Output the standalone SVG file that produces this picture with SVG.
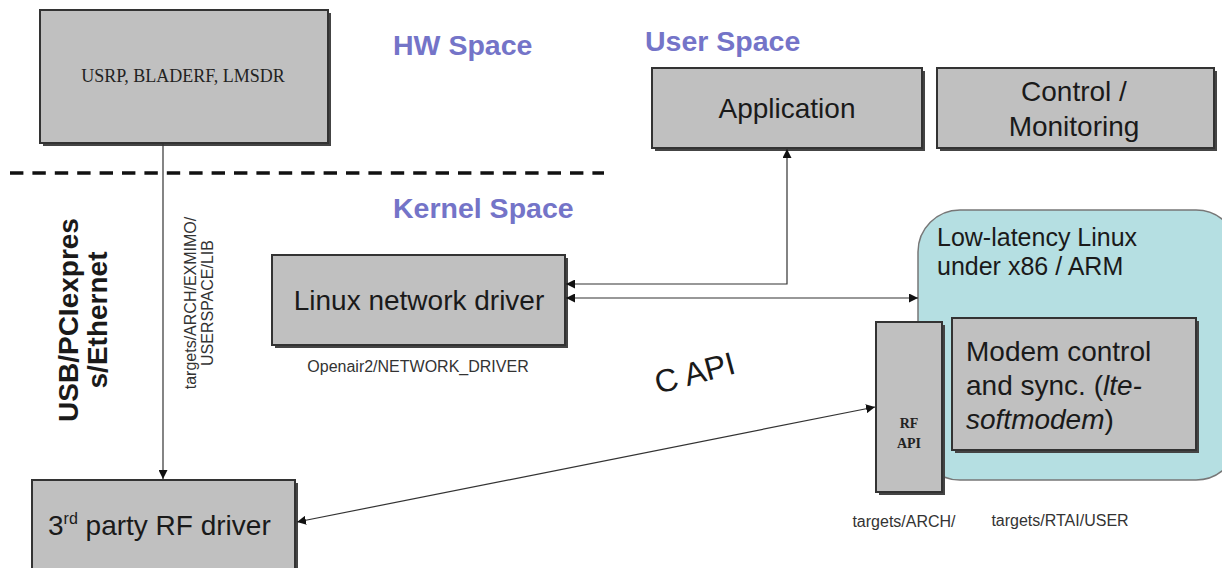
<svg xmlns="http://www.w3.org/2000/svg" width="1222" height="568" viewBox="0 0 1222 568">
  <defs>
    <marker id="arr" viewBox="0 0 10 10" refX="10" refY="5" markerWidth="9" markerHeight="9" markerUnits="userSpaceOnUse" orient="auto-start-reverse">
      <path d="M0,0 L10,5 L0,10 z" fill="#111"/>
    </marker>
  </defs>
  <style>
    .box { fill: #c0c0c0; stroke: #333; stroke-width: 2; }
    .shadow { fill: #444; }
    .space { font-family: "Liberation Sans", Arial, sans-serif; font-weight: bold; font-size: 28.5px; fill: #7474c8; }
    .lbl { font-family: "Liberation Sans", Arial, sans-serif; fill: #1a1a1a; }
    .small { font-family: "Liberation Sans", Arial, sans-serif; font-size: 16px; fill: #333; }
    .serif { font-family: "Liberation Serif", "Times New Roman", serif; fill: #222; }
    .conn { stroke: #333; stroke-width: 1.2; fill: none; }
  </style>
  <rect width="1222" height="568" fill="#fff"/>

  <!-- area titles -->
  <text class="space" x="393" y="55">HW Space</text>
  <text class="space" x="645" y="51">User Space</text>
  <text class="space" x="393" y="218">Kernel Space</text>

  <!-- HW / kernel boundary -->
  <line x1="10" y1="173" x2="604" y2="173" stroke="#111" stroke-width="3.5" stroke-dasharray="13.4,9"/>

  <!-- bus label -->
  <text class="lbl" font-size="28" font-weight="bold" transform="translate(78,320) rotate(-90)" text-anchor="middle">USB/PCIexpres</text>
  <text class="lbl" font-size="28" font-weight="bold" transform="translate(107,320) rotate(-90)" text-anchor="middle">s/Ethernet</text>

  <g id="n-lowlatency">
    <rect x="918" y="210" width="320" height="270" rx="42" fill="#b5dfe2" stroke="#777" stroke-width="1.5"/>
    <text class="lbl" font-size="25" x="937" y="246">Low-latency Linux</text>
    <text class="lbl" font-size="25" x="937" y="275">under x86 / ARM</text>
  </g>

  <g id="n-usrp">
    <rect class="shadow" x="43" y="13" width="288" height="133"/>
    <rect class="box" x="40" y="10" width="288" height="133"/>
    <text class="serif" font-size="18" x="183" y="82" text-anchor="middle">USRP, BLADERF, LMSDR</text>
  </g>

  <g id="n-application">
    <rect class="shadow" x="655" y="71" width="270" height="80"/>
    <rect class="box" x="652" y="68" width="270" height="80"/>
    <text class="lbl" font-size="28" x="787" y="118" text-anchor="middle">Application</text>
  </g>

  <g id="n-control">
    <rect class="shadow" x="940" y="71" width="277" height="80"/>
    <rect class="box" x="937" y="68" width="277" height="80"/>
    <text class="lbl" font-size="28" x="1074" y="101" text-anchor="middle">Control /</text>
    <text class="lbl" font-size="28" x="1074" y="136" text-anchor="middle">Monitoring</text>
  </g>

  <g id="n-netdriver">
    <rect class="shadow" x="275" y="258" width="293" height="90"/>
    <rect class="box" x="272" y="255" width="293" height="90"/>
    <text class="lbl" font-size="28" x="419" y="310" text-anchor="middle">Linux network driver</text>
    <text class="small" x="418" y="372" text-anchor="middle">Openair2/NETWORK_DRIVER</text>
  </g>

  <g id="n-rfapi">
    <rect class="shadow" x="879" y="325" width="66" height="170"/>
    <rect class="box" x="876" y="322" width="66" height="170"/>
    <text class="serif" font-size="14" font-weight="bold" x="909" y="428" text-anchor="middle">RF</text>
    <text class="serif" font-size="14" font-weight="bold" x="909" y="448" text-anchor="middle">API</text>
    <text class="small" x="904" y="527" text-anchor="middle">targets/ARCH/</text>
  </g>

  <g id="n-modem">
    <rect class="shadow" x="955" y="321" width="244" height="132"/>
    <rect class="box" x="952" y="318" width="244" height="132"/>
    <text class="lbl" font-size="28" x="966" y="361">Modem control</text>
    <text class="lbl" font-size="28" x="966" y="395">and sync. (<tspan font-style="italic">lte-</tspan></text>
    <text class="lbl" font-size="28" x="966" y="429"><tspan font-style="italic">softmodem</tspan>)</text>
    <text class="small" x="1060" y="526" text-anchor="middle">targets/RTAI/USER</text>
  </g>

  <g id="n-rfdriver">
    <rect class="shadow" x="35" y="483" width="263" height="90"/>
    <rect class="box" x="32" y="480" width="263" height="90"/>
    <text class="lbl" font-size="28" x="48" y="535">3<tspan font-size="16" dy="-11">rd</tspan><tspan dy="11"> party RF driver</tspan></text>
  </g>

  <g id="connectors">
    <!-- USRP to 3rd party driver -->
    <line class="conn" x1="163" y1="143" x2="163" y2="479" marker-end="url(#arr)"/>
    <text class="small" font-size="15" transform="translate(196,303) rotate(-90)" text-anchor="middle">targets/ARCH/EXMIMO/</text>
    <text class="small" font-size="15" transform="translate(213,303) rotate(-90)" text-anchor="middle">USERSPACE/LIB</text>
    <!-- network driver to application -->
    <path class="conn" d="M566,284 L787,284 L787,149" marker-start="url(#arr)" marker-end="url(#arr)"/>
    <!-- network driver to low-latency Linux -->
    <line class="conn" x1="566" y1="298" x2="918" y2="298" marker-start="url(#arr)" marker-end="url(#arr)"/>
    <!-- 3rd party driver to RF API -->
    <line class="conn" x1="297" y1="522" x2="875" y2="407" marker-start="url(#arr)" marker-end="url(#arr)"/>
    <text class="lbl" font-size="32" transform="translate(658,394) rotate(-15)">C API</text>
  </g>
</svg>
